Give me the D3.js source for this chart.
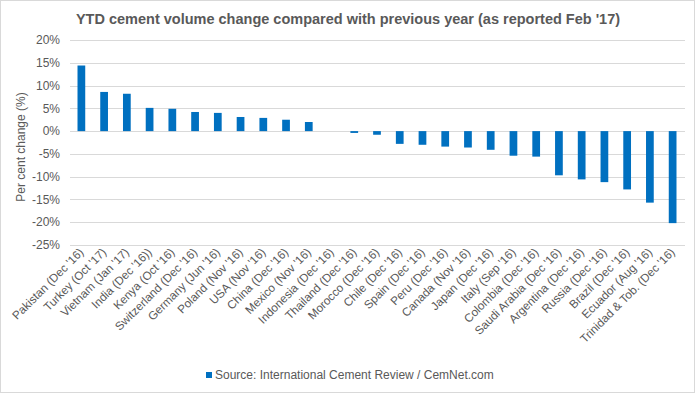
<!DOCTYPE html>
<html><head><meta charset="utf-8">
<script src="https://cdn.jsdelivr.net/npm/d3@7"></script>
<style>body{margin:0;background:#fff}svg{display:block;font-family:"Liberation Sans",Arial,sans-serif}</style>
</head><body>
<svg id="c" width="696" height="394"></svg>
<script>
const categories = ["Pakistan (Dec '16)","Turkey (Oct '17)","Vietnam (Jan '17)","India (Dec '16))","Kenya (Oct '16)","Switzerland (Dec '16)","Germany (Jun '16)","Poland (Nov '16)","USA (Nov '16)","China (Dec '16)","Mexico (Nov '16)","Indonesia (Dec '16)","Thailand (Dec '16)","Morocco (Dec '16)","Chile (Dec '16)","Spain (Dec '16)","Peru (Dec '16)","Canada (Nov '16)","Japan  (Dec '16)","Italy (Sep '16)","Colombia (Dec '16)","Saudi Arabia (Dec '16)","Argentina (Dec '16)","Russia (Dec '16)","Brazil (Dec '16)","Ecuador (Aug '16)","Trinidad & Tob.  (Dec '16)"];
const values = [14.4,8.6,8.2,5.1,4.9,4.2,4.0,3.1,2.9,2.5,2.0,0,-0.4,-0.8,-2.8,-3.0,-3.4,-3.6,-4.1,-5.4,-5.6,-9.7,-10.6,-11.2,-12.8,-15.7,-20.2];
const yTicks = [20,15,10,5,0,-5,-10,-15,-20,-25];
const title = "YTD cement volume change compared with previous year (as reported Feb '17)";
const yTitle = "Per cent change (%)";
const legendLabel = "Source: International Cement Review / CemNet.com";

const svg = d3.select("#c");
const gray = "#595959", blue = "#0070c0";
svg.append("rect").attr("x",0.5).attr("y",0.5).attr("width",694).attr("height",392)
  .attr("fill","#fff").attr("stroke","#d9d9d9");

const x = d3.scaleBand().domain(categories).range([70,684]).paddingInner(0.66).paddingOuter(0.33);
const y = d3.scaleLinear().domain([-25,20]).range([245,40]);

const grid = svg.append("g");
grid.selectAll("line").data(yTicks).join("line")
  .attr("x1",70).attr("x2",685).attr("y1",d=>Math.round(y(d))+0.5).attr("y2",d=>Math.round(y(d))+0.5)
  .attr("stroke","#d9d9d9").attr("stroke-width",1);

svg.append("g").selectAll("text").data(yTicks).join("text")
  .attr("x",60).attr("y",d=>y(d)).attr("dy","0.35em").attr("text-anchor","end")
  .attr("fill",gray).attr("font-size",12).text(d=>d+"%");

svg.append("g").selectAll("rect").data(values).join("rect")
  .attr("x",(d,i)=>x(categories[i])).attr("width",x.bandwidth())
  .attr("y",d=>y(Math.max(0,d))).attr("height",d=>Math.abs(y(d)-y(0)))
  .attr("fill",blue);

svg.append("g").selectAll("text").data(categories).join("text")
  .attr("transform",d=>`translate(${x(d)+x.bandwidth()/2+3},${253}) rotate(-45)`)
  .attr("text-anchor","end").attr("font-size",11.7).attr("fill",gray).text(d=>d);

svg.append("text").attr("x",348).attr("y",24).attr("text-anchor","middle")
  .attr("font-size",14.5).attr("font-weight","bold").attr("fill",gray).text(title);

svg.append("text").attr("transform","translate(25,147) rotate(-90)").attr("text-anchor","middle")
  .attr("font-size",12).attr("fill",gray).text(yTitle);

svg.append("rect").attr("x",206).attr("y",372).attr("width",6).attr("height",6).attr("fill",blue);
svg.append("text").attr("x",215).attr("y",375).attr("dy","0.35em").attr("font-size",12)
  .attr("fill",gray).text(legendLabel);
</script>
</body></html>
